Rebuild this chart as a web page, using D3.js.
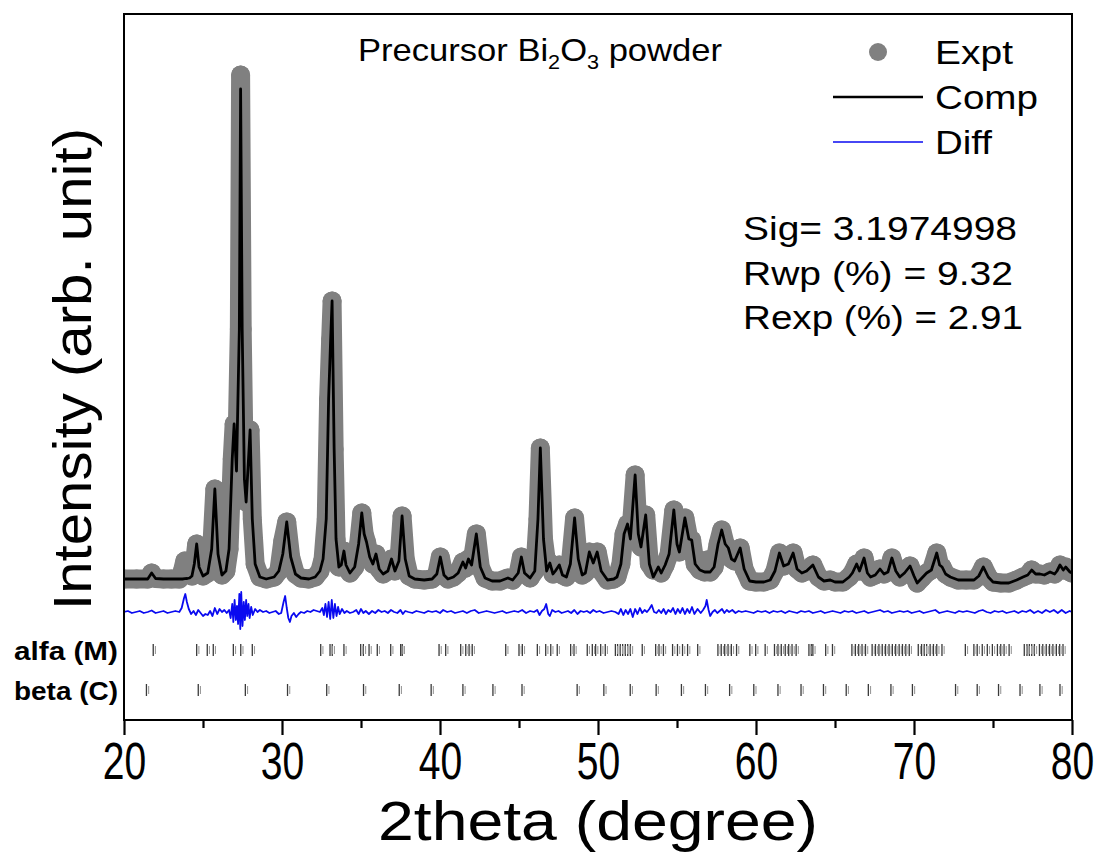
<!DOCTYPE html>
<html>
<head>
<meta charset="utf-8">
<script src="https://cdn.jsdelivr.net/npm/d3@7/dist/d3.min.js"></script>
<style>
  html, body { margin: 0; padding: 0; background: #fff; }
  svg { display: block; }
  text { font-family: "Liberation Sans", Arial, sans-serif; }
</style>
</head>
<body>
<svg id="chart" width="1099" height="852"></svg>
<script>
// ---------------- DATA ----------------
const twoTheta = [20.0,20.8,21.5,21.75,22.0,22.5,23.0,23.5,23.7,23.85,24.0,24.15,24.3,24.45,24.6,24.75,25.0,25.3,25.55,25.75,25.95,26.2,26.45,26.65,26.85,26.97,27.12,27.3,27.38,27.48,27.62,27.73,27.88,27.98,28.12,28.3,28.6,29.0,29.5,29.8,30.05,30.3,30.55,30.85,31.2,31.7,32.1,32.4,32.6,32.8,32.95,33.08,33.17,33.3,33.42,33.6,33.75,33.92,34.05,34.3,34.6,34.85,35.05,35.2,35.35,35.55,35.75,35.95,36.15,36.4,36.7,36.93,37.15,37.4,37.6,37.8,38.05,38.4,39.0,39.5,39.8,40.02,40.25,40.5,40.85,41.15,41.45,41.62,41.8,42.0,42.3,42.55,42.85,43.3,43.8,44.3,44.6,44.95,45.15,45.35,45.7,46.0,46.2,46.35,46.55,46.75,46.95,47.15,47.3,47.55,47.75,48.0,48.25,48.52,48.75,49.0,49.2,49.45,49.7,49.95,50.2,50.6,51.0,51.2,51.45,51.65,51.87,52.05,52.35,52.55,52.72,53.02,53.25,53.5,53.82,54.0,54.25,54.5,54.8,55.0,55.15,55.5,55.75,55.93,56.15,56.45,56.75,56.9,57.1,57.35,57.6,57.83,58.05,58.25,58.45,58.65,59.0,59.25,59.6,60.0,60.5,60.9,61.2,61.48,61.75,62.05,62.35,62.6,62.9,63.2,63.6,63.95,64.3,64.7,65.0,65.5,65.9,66.1,66.37,66.55,66.84,67.05,67.25,67.55,67.85,68.1,68.35,68.6,68.85,69.1,69.4,69.75,70.0,70.2,70.5,70.8,71.1,71.44,71.62,71.78,72.0,72.3,72.8,73.3,73.8,74.1,74.39,74.7,75.0,75.5,76.0,76.5,76.9,77.2,77.45,77.7,77.97,78.25,78.61,78.9,79.05,79.24,79.45,79.6,79.87,80.0];

const yCalc = [400,400,400,520,410,400,400,400,400,406,410,420,460,700,1100,640,460,520,1000,2200,900,480,560,1000,2800,3500,2560,5400,10200,5400,2400,1940,2800,3380,1600,700,440,400,440,560,900,1540,840,500,420,400,440,560,800,1600,4000,5200,5960,3000,1200,640,680,960,680,520,640,1100,1720,1300,1140,840,700,900,600,500,560,800,560,760,1660,800,460,400,380,400,500,840,480,400,440,520,740,620,800,680,1300,640,420,360,360,420,380,520,840,520,420,560,1600,3020,1200,560,720,500,560,680,480,440,700,1620,800,480,520,940,720,940,560,380,400,440,700,1300,1500,1200,2480,1300,1040,1680,700,440,640,520,680,900,1780,1100,940,1620,1200,1180,700,580,540,540,540,640,1100,1380,1100,1020,800,760,1020,600,360,340,340,380,560,920,660,700,920,600,520,560,680,440,360,380,340,340,440,520,700,560,820,520,440,480,600,500,540,820,560,440,520,660,460,320,420,520,580,920,680,640,500,440,380,380,380,460,640,440,340,320,320,380,440,480,580,500,500,480,540,500,560,680,580,640,540,520];

const yObs = [400,400,400,520,410,400,400,400,560,760,660,500,460,700,1100,640,460,520,1000,2200,900,480,560,1000,2800,3500,2560,5400,10480,5400,2400,1940,2800,3380,1600,700,440,400,440,560,1160,1540,840,500,420,400,440,560,800,1600,4000,5200,5960,3000,1200,640,680,960,680,520,640,1100,1720,1300,1140,840,700,900,600,500,560,800,560,760,1660,800,460,400,380,400,500,840,480,400,440,520,740,620,800,680,1300,640,420,360,360,420,380,520,840,520,420,560,1600,3020,1200,720,720,500,560,680,480,440,700,1620,800,480,520,940,720,940,560,380,400,440,700,1300,1500,1200,2480,1300,1040,1680,700,580,640,520,680,900,1780,1100,940,1620,1200,1180,700,580,540,780,540,640,1100,1380,1100,1020,800,760,1020,600,360,340,340,380,560,920,660,700,920,600,520,560,680,440,360,380,340,340,440,520,700,560,820,520,440,480,600,500,540,820,560,440,520,660,460,320,420,520,580,920,680,640,500,440,380,380,380,460,640,440,340,320,320,380,440,480,580,500,500,480,540,500,560,680,580,640,540,520];

const diffTheta = [20.0,20.25,20.5,20.75,21.0,21.25,21.5,21.75,22.0,22.25,22.5,22.75,23.0,23.25,23.5,23.65,23.8,23.88,23.98,24.1,24.25,24.4,24.55,24.7,24.85,25.0,25.15,25.3,25.45,25.6,25.75,25.9,26.05,26.2,26.35,26.5,26.65,26.75,26.85,26.92,27.0,27.08,27.15,27.22,27.3,27.36,27.42,27.5,27.58,27.65,27.73,27.8,27.88,27.95,28.05,28.15,28.3,28.45,28.6,28.8,29.0,29.2,29.4,29.6,29.8,29.95,30.1,30.2,30.3,30.4,30.5,30.6,30.75,30.9,31.05,31.2,31.4,31.6,31.8,32.0,32.2,32.4,32.55,32.65,32.75,32.85,32.95,33.05,33.15,33.25,33.35,33.45,33.55,33.65,33.8,33.95,34.1,34.3,34.5,34.7,34.85,35.0,35.15,35.3,35.5,35.7,35.9,36.1,36.3,36.5,36.7,36.9,37.1,37.3,37.5,37.65,37.8,38.0,38.25,38.5,38.75,39.0,39.25,39.5,39.75,40.0,40.2,40.45,40.7,40.95,41.2,41.45,41.7,41.95,42.2,42.45,42.7,42.95,43.2,43.45,43.7,43.95,44.2,44.45,44.7,44.95,45.2,45.45,45.7,45.95,46.15,46.3,46.45,46.6,46.72,46.85,46.95,47.1,47.3,47.5,47.7,47.9,48.1,48.3,48.5,48.7,48.9,49.1,49.3,49.5,49.7,49.9,50.1,50.35,50.6,50.85,51.1,51.3,51.45,51.6,51.75,51.9,52.05,52.2,52.35,52.5,52.65,52.8,52.95,53.1,53.25,53.4,53.55,53.7,53.85,54.0,54.15,54.3,54.45,54.6,54.75,54.9,55.05,55.2,55.35,55.5,55.65,55.8,55.95,56.1,56.3,56.5,56.65,56.8,56.88,57.0,57.1,57.25,57.4,57.55,57.7,57.85,58.0,58.15,58.3,58.5,58.7,58.9,59.1,59.35,59.6,59.85,60.1,60.35,60.6,60.85,61.1,61.35,61.6,61.85,62.1,62.35,62.6,62.85,63.1,63.35,63.6,63.85,64.1,64.35,64.6,64.85,65.1,65.35,65.6,65.85,66.1,66.35,66.6,66.85,67.1,67.35,67.6,67.85,68.1,68.35,68.6,68.85,69.1,69.35,69.6,69.85,70.1,70.35,70.6,70.85,71.1,71.35,71.6,71.85,72.1,72.35,72.6,72.85,73.1,73.35,73.6,73.85,74.1,74.35,74.6,74.85,75.1,75.35,75.6,75.85,76.1,76.35,76.6,76.85,77.1,77.35,77.6,77.85,78.1,78.35,78.6,78.85,79.1,79.35,79.6,79.85,80.0];

const yDiff = [0,20,-20,0,20,-20,0,30,-20,0,20,-20,0,20,0,80,280,360,200,60,-40,20,-60,40,-20,-80,-40,-60,20,-80,80,-40,60,0,40,-20,40,-120,160,-200,240,-160,120,-240,360,-340,400,-280,200,-160,240,-80,160,-120,100,-60,60,0,40,0,20,-20,0,20,-40,-20,200,320,80,-120,-200,-80,-20,-100,-40,0,-20,20,0,40,20,0,80,-60,160,-100,200,-140,240,-120,160,-80,100,-40,60,-20,20,-20,0,40,-40,60,-20,20,-40,20,-20,40,0,20,-20,40,0,-20,40,-40,20,0,-20,20,0,-20,20,0,20,-20,40,0,20,-20,0,20,-20,20,40,-20,0,20,0,-20,0,20,-20,0,20,0,40,-20,20,0,40,-60,20,60,160,-40,-80,40,0,20,-20,0,20,-20,40,-40,20,0,20,-20,40,0,20,-20,0,20,0,-40,60,-60,40,-40,60,-100,60,-40,80,-20,40,0,60,140,0,-20,40,-20,60,-40,40,0,80,-40,60,-20,80,-40,60,-20,100,-40,60,-20,40,120,240,40,-80,0,40,-20,20,60,-20,40,0,40,-20,20,0,20,0,-20,20,0,20,-20,20,0,20,-20,20,0,-20,20,0,20,-20,0,20,-20,0,20,0,-20,20,0,20,-20,0,20,-20,0,20,40,0,20,-20,0,20,0,20,-20,0,20,-20,0,20,40,-20,0,20,0,-20,20,0,20,0,-20,20,40,0,-20,20,0,20,-20,0,20,-20,20,0,40,-20,20,-20,40,0,40,-20,40,-20,20,0];
const diffOffset = -260;

const phases = ["alfa (M)", "beta (C)"];
const alfaPositions = [21.85,24.60,25.27,25.65,26.92,27.39,28.12,32.45,33.04,33.18,33.92,34.98,35.15,35.51,36.03,36.88,37.51,37.61,39.94,40.36,41.31,41.63,41.84,42.04,44.16,45.00,45.21,46.16,46.69,47.01,47.42,48.27,48.48,49.32,49.64,49.85,50.17,50.46,51.10,51.24,51.41,51.56,51.73,51.88,52.05,52.80,53.65,53.86,54.14,54.72,55.03,55.35,55.67,56.31,57.59,57.80,58.02,58.23,58.44,58.77,59.61,59.98,60.58,61.17,61.39,61.60,61.85,62.07,62.28,62.54,63.35,63.50,63.60,64.41,64.84,66.07,66.29,66.50,66.71,66.93,67.35,67.56,67.78,67.99,68.20,68.42,68.63,68.84,69.06,69.27,69.48,69.70,70.27,70.48,70.65,70.80,71.02,71.23,71.44,71.77,73.25,73.79,74.00,74.32,74.64,74.96,75.28,75.49,75.70,76.02,76.98,77.15,77.30,77.45,77.62,77.94,78.15,78.37,78.58,78.79,79.01,79.22,79.43];
const betaPositions = [21.42,24.70,27.68,30.35,32.83,35.16,37.42,39.44,41.45,43.35,45.19,48.68,50.37,52.04,53.68,55.28,56.80,58.33,59.86,61.39,62.85,64.27,65.71,67.11,68.54,69.90,72.63,74.00,75.35,76.71,77.97,79.24];

const xMajorTicks = [20, 30, 40, 50, 60, 70, 80];
const xMinorTicks = [25, 35, 45, 55, 65, 75];
const legendItems = ["Expt", "Comp", "Diff"];
const statLines = ["Sig= 3.1974998", "Rwp (%) = 9.32", "Rexp (%) = 2.91"];

// ---------------- DRAWING ----------------
const svg = d3.select("#chart");
const L = 124, R = 1072, T = 14, B = 720;
const x = d3.scaleLinear().domain([20, 80]).range([L, R]);
const y = d3.scaleLinear().domain([-2420, 11700]).range([B, T]);

svg.append("rect").attr("width", 1099).attr("height", 852).attr("fill", "#fff");

svg.append("defs").append("clipPath").attr("id", "plotClip")
  .append("rect").attr("x", L).attr("y", T).attr("width", R - L).attr("height", B - T);

const plot = svg.append("g").attr("clip-path", "url(#plotClip)");

const obsPts = twoTheta.map((t, i) => [t, yObs[i]]);
const calcPts = twoTheta.map((t, i) => [t, yCalc[i]]);
const diffPts = diffTheta.map((t, i) => [t, diffOffset + yDiff[i]]);
const line = d3.line().x(d => x(d[0])).y(d => y(d[1]));

const grey = "#808080";
// experimental points: gray band of dots
plot.append("path").datum(obsPts).attr("d", line)
  .attr("fill", "none").attr("stroke", grey).attr("stroke-width", 19)
  .attr("stroke-linejoin", "round").attr("stroke-linecap", "round");
plot.selectAll("circle.obs").data(obsPts).join("circle")
  .attr("class", "obs").attr("cx", d => x(d[0])).attr("cy", d => y(d[1]))
  .attr("r", 9.5).attr("fill", grey);

// computed
plot.append("path").datum(calcPts).attr("d", line)
  .attr("fill", "none").attr("stroke", "#000").attr("stroke-width", 2.8)
  .attr("stroke-linejoin", "round");

// difference
plot.append("path").datum(diffPts).attr("d", line)
  .attr("fill", "none").attr("stroke", "#0a0af0").attr("stroke-width", 1.8)
  .attr("stroke-linejoin", "round");

// reflection markers
const phaseY = d3.scalePoint().domain(phases).range([650, 690]);
const phaseData = [alfaPositions, betaPositions];
phases.forEach((p, k) => {
  const g = plot.append("g");
  const yc = phaseY(p);
  g.selectAll("line.k1").data(phaseData[k]).join("line")
    .attr("x1", d => x(d)).attr("x2", d => x(d))
    .attr("y1", yc - 6).attr("y2", yc + 6)
    .attr("stroke", "#3a3a3a").attr("stroke-width", 1.3);
  g.selectAll("line.k2").data(phaseData[k]).join("line")
    .attr("x1", d => x(d) + 2.2).attr("x2", d => x(d) + 2.2)
    .attr("y1", yc - 4).attr("y2", yc + 4)
    .attr("stroke", "#9a9a9a").attr("stroke-width", 1.1);
  svg.append("text").attr("x", 118).attr("y", yc + 10)
    .attr("text-anchor", "end").attr("font-weight", "bold")
    .attr("font-size", 25).attr("textLength", 104).attr("lengthAdjust", "spacingAndGlyphs")
    .text(p);
});

// frame
svg.append("rect").attr("x", L).attr("y", T).attr("width", R - L).attr("height", B - T)
  .attr("fill", "none").attr("stroke", "#000").attr("stroke-width", 2);

// bottom axis
const axisG = svg.append("g").attr("transform", `translate(0,${B})`);
axisG.call(d3.axisBottom(x).tickValues(xMinorTicks).tickSize(8).tickFormat(""));
const major = svg.append("g").attr("transform", `translate(0,${B})`)
  .call(d3.axisBottom(x).tickValues(xMajorTicks).tickSize(15).tickFormat(d3.format("d")));
svg.selectAll(".domain").remove();
svg.selectAll(".tick line").attr("stroke", "#000").attr("stroke-width", 2.2);
// condensed, tall tick labels as in the reference
major.selectAll(".tick text")
  .attr("y", 0).attr("dy", 0)
  .attr("transform", "translate(0,59) scale(0.93,1.24)")
  .attr("font-size", 42).attr("fill", "#000")
  .attr("font-family", "'Liberation Sans', Arial, sans-serif");

// axis titles
svg.append("text").attr("x", 598).attr("y", 840).attr("text-anchor", "middle")
  .attr("font-size", 55).attr("textLength", 440).attr("lengthAdjust", "spacingAndGlyphs")
  .text("2theta (degree)");
svg.append("text").attr("transform", "translate(91,369) rotate(-90)")
  .attr("text-anchor", "middle").attr("font-size", 54)
  .attr("textLength", 482).attr("lengthAdjust", "spacingAndGlyphs")
  .text("Intensity (arb. unit)");

// title
const title = svg.append("text").attr("x", 358).attr("y", 61).attr("font-size", 32)
  .attr("textLength", 364).attr("lengthAdjust", "spacingAndGlyphs");
title.append("tspan").text("Precursor Bi");
title.append("tspan").attr("font-size", 20).attr("dy", 8).text("2");
title.append("tspan").attr("dy", -8).text("O");
title.append("tspan").attr("font-size", 20).attr("dy", 8).text("3");
title.append("tspan").attr("dy", -8).text(" powder");

// legend
const legY = [52, 97, 142];
svg.append("circle").attr("cx", 878).attr("cy", legY[0]).attr("r", 9).attr("fill", grey);
svg.append("line").attr("x1", 833).attr("x2", 923).attr("y1", legY[1]).attr("y2", legY[1])
  .attr("stroke", "#000").attr("stroke-width", 2.5);
svg.append("line").attr("x1", 833).attr("x2", 923).attr("y1", legY[2]).attr("y2", legY[2])
  .attr("stroke", "#0a0af0").attr("stroke-width", 1.6);
const legLen = [78, 103, 57];
legendItems.forEach((t, i) => {
  svg.append("text").attr("x", 935).attr("y", legY[i] + 12).attr("font-size", 34)
    .attr("textLength", legLen[i]).attr("lengthAdjust", "spacingAndGlyphs").text(t);
});

// statistics
const statY = [240, 285, 329];
const statLen = [274, 270, 280];
statLines.forEach((t, i) => {
  svg.append("text").attr("x", 743).attr("y", statY[i]).attr("font-size", 33)
    .attr("textLength", statLen[i]).attr("lengthAdjust", "spacingAndGlyphs").text(t);
});
</script>
</body>
</html>
